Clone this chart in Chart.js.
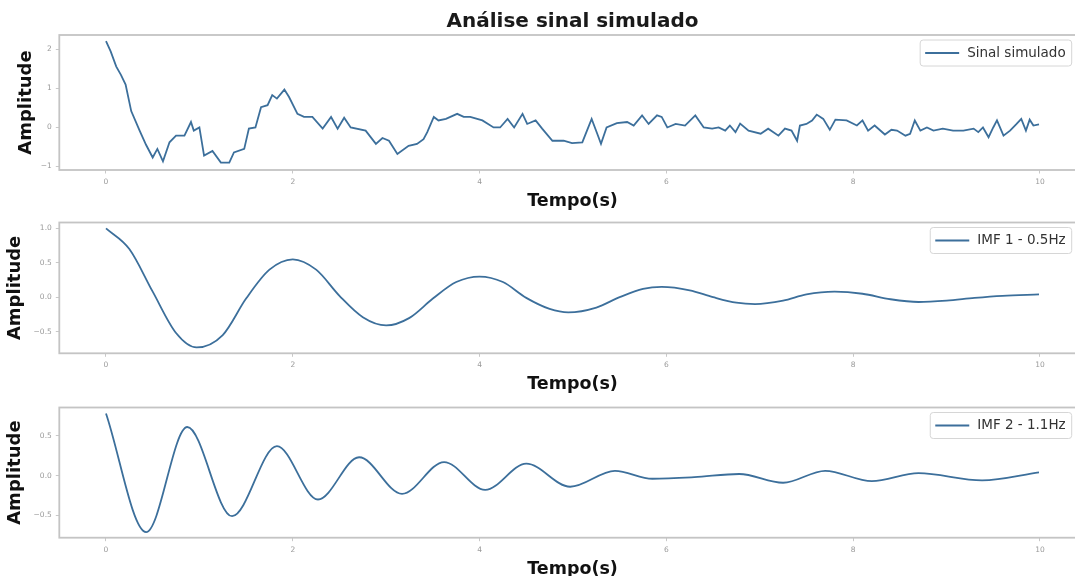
<!DOCTYPE html>
<html>
<head>
<meta charset="utf-8">
<script src="https://cdn.jsdelivr.net/npm/chart.js@4.4.0/dist/chart.umd.min.js"></script>
<style>
  html, body { margin: 0; padding: 0; background: #fff; width: 1075px; height: 576px; overflow: hidden; }
  .panel { position: absolute; left: 0; }
  .panel canvas { display: block; }
</style>
</head>
<body>
<div class="panel" style="top:0px"><canvas id="cSignal" width="1090" height="214"></canvas></div>
<div class="panel" style="top:214px"><canvas id="cImf1" width="1090" height="185"></canvas></div>
<div class="panel" style="top:399px"><canvas id="cImf2" width="1090" height="190"></canvas></div>
<script>
// ---- data ----
const xTicks = [0, 2, 4, 6, 8, 10];
const xTickLabels = ['0', '2', '4', '6', '8', '10'];

const seriesLabels = ['Sinal simulado', 'IMF 1 - 0.5Hz', 'IMF 2 - 1.1Hz'];

const signalTime = [
  0.00, 0.05, 0.11, 0.16, 0.21, 0.27, 0.36, 0.43, 0.50, 0.55, 0.61, 0.68, 0.75, 0.84, 0.91, 0.94,
  1.00, 1.05, 1.14, 1.23, 1.32, 1.37, 1.48, 1.53, 1.60, 1.66, 1.73, 1.78, 1.83, 1.91, 1.96,
  2.05, 2.12, 2.21, 2.32, 2.41, 2.48, 2.55, 2.62, 2.78, 2.89, 2.96,
  3.03, 3.12, 3.24, 3.33, 3.40, 3.44, 3.51, 3.56, 3.64, 3.76, 3.83, 3.90,
  4.03, 4.15, 4.22, 4.30, 4.37, 4.46, 4.51, 4.60, 4.67, 4.78, 4.90, 4.99,
  5.10, 5.15, 5.20, 5.26, 5.30, 5.36, 5.47, 5.58, 5.65, 5.74, 5.81, 5.90, 5.95,
  6.01, 6.10, 6.20, 6.31, 6.40, 6.49, 6.56, 6.63, 6.68, 6.74, 6.79, 6.88,
  7.01, 7.09, 7.20, 7.27, 7.34, 7.40, 7.43, 7.50, 7.56, 7.61, 7.68, 7.75, 7.81, 7.93,
  8.04, 8.10, 8.16, 8.23, 8.34, 8.41, 8.47, 8.56, 8.61, 8.66, 8.72, 8.79, 8.86, 8.96,
  9.07, 9.18, 9.29, 9.34, 9.39, 9.45, 9.50, 9.54, 9.61, 9.68, 9.75, 9.80, 9.85, 9.89, 9.93, 9.99
];
const signalValues = [
  2.21, 1.95, 1.56, 1.35, 1.10, 0.42, -0.08, -0.45, -0.77, -0.55, -0.87, -0.38, -0.21, -0.21, 0.14, -0.08,
  0.00, -0.72, -0.60, -0.90, -0.90, -0.64, -0.55, -0.03, 0.00, 0.52, 0.57, 0.83, 0.74, 0.97, 0.78,
  0.35, 0.27, 0.27, -0.03, 0.27, -0.03, 0.25, 0.00, -0.08, -0.42, -0.27,
  -0.34, -0.68, -0.47, -0.42, -0.30, -0.12, 0.27, 0.18, 0.22, 0.35, 0.27, 0.27,
  0.18, 0.00, 0.00, 0.22, 0.00, 0.35, 0.09, 0.18, -0.03, -0.34, -0.34, -0.40,
  -0.38, -0.08, 0.22, -0.16, -0.42, 0.00, 0.11, 0.14, 0.05, 0.31, 0.09, 0.31, 0.27,
  0.00, 0.09, 0.05, 0.31, 0.00, -0.03, 0.00, -0.08, 0.05, -0.12, 0.10, -0.08,
  -0.16, -0.03, -0.21, -0.03, -0.08, -0.34, 0.05, 0.09, 0.18, 0.33, 0.22, -0.06, 0.20, 0.18,
  0.05, 0.18, -0.08, 0.05, -0.18, -0.06, -0.08, -0.21, -0.16, 0.18, -0.08, 0.00, -0.08, -0.03,
  -0.08, -0.08, -0.03, -0.12, 0.00, -0.25, 0.00, 0.18, -0.21, -0.08, 0.09, 0.22, -0.08, 0.20, 0.05, 0.08
];

const imf1Time = [
  0.00, 0.25, 0.50, 0.75, 0.97, 1.25, 1.50, 1.75, 2.00, 2.25, 2.50, 2.75, 3.00, 3.25, 3.50, 3.75,
  4.00, 4.25, 4.50, 4.75, 4.95, 5.25, 5.50, 5.75, 5.95, 6.25, 6.50, 6.75, 6.95, 7.25, 7.50, 7.80,
  8.10, 8.40, 8.70, 9.00, 9.30, 9.60, 9.99
];
const imf1Values = [
  1.00, 0.70, 0.08, -0.52, -0.73, -0.55, -0.02, 0.40, 0.55, 0.40, 0.02, -0.29, -0.41, -0.30, -0.02, 0.22,
  0.30, 0.22, -0.01, -0.17, -0.22, -0.15, 0.00, 0.12, 0.15, 0.10, 0.00, -0.08, -0.10, -0.05, 0.04, 0.08,
  0.05, -0.03, -0.07, -0.05, -0.01, 0.02, 0.04
];

const imf2Time = [
  0.00, 0.43, 0.87, 1.35, 1.83, 2.27, 2.71, 3.17, 3.62, 4.06, 4.50, 4.97, 5.45, 5.85, 6.30,
  6.78, 7.25, 7.70, 8.20, 8.70, 9.38, 9.99
];
const imf2Values = [
  0.78, -0.71, 0.61, -0.51, 0.37, -0.30, 0.23, -0.23, 0.17, -0.18, 0.15, -0.14, 0.06, -0.04, -0.02,
  0.02, -0.09, 0.06, -0.07, 0.03, -0.06, 0.04
];

const yTicksSignal = [-1, 0, 1, 2];
const yTickLabelsSignal = ['\u22121', '0', '1', '2'];
const yTicksImf1 = [-0.5, 0, 0.5, 1];
const yTickLabelsImf1 = ['\u22120.5', '0.0', '0.5', '1.0'];
const yTicksImf2 = [-0.5, 0, 0.5];
const yTickLabelsImf2 = ['\u22120.5', '0.0', '0.5'];

// ---- styling ----
const LINE_COLOR = '#3c6f9b';
const SPINE_COLOR = '#c4c4c4';
const TICK_COLOR = '#c8c8c8';
const TICK_TEXT = '#9a9a9a';

Chart.defaults.font.family = '"DejaVu Sans", "Liberation Sans", sans-serif';

// light grey box round the plotting area
const framePlugin = {
  id: 'frame',
  afterDatasetsDraw(chart) {
    const { ctx, chartArea: a } = chart;
    ctx.save();
    ctx.strokeStyle = SPINE_COLOR;
    ctx.lineWidth = 1.8;
    ctx.strokeRect(a.left, a.top, a.right - a.left, a.bottom - a.top);
    ctx.restore();
  }
};

// framed legend in the upper-right corner of the plotting area
const legendBoxPlugin = {
  id: 'legendBox',
  afterDraw(chart) {
    const ds = chart.data.datasets[0];
    const a = chart.chartArea;
    const ctx = chart.ctx;
    ctx.save();
    ctx.font = '13.5px "DejaVu Sans"';
    const tw = ctx.measureText(ds.label).width;
    const right = a.right - 14;
    const textX = right - 6 - tw;
    const lineEnd = textX - 8;
    const lineStart = lineEnd - 34;
    const left = lineStart - 5;
    const top = a.top + 5;
    const h = 26;
    const midY = top + h / 2;
    ctx.fillStyle = 'rgba(255,255,255,0.8)';
    ctx.strokeStyle = '#d6d6d6';
    ctx.lineWidth = 1;
    ctx.beginPath();
    ctx.roundRect(left, top, right - left, h, 3);
    ctx.fill();
    ctx.stroke();
    ctx.strokeStyle = ds.borderColor;
    ctx.lineWidth = ds.borderWidth;
    ctx.beginPath();
    ctx.moveTo(lineStart, midY);
    ctx.lineTo(lineEnd, midY);
    ctx.stroke();
    ctx.fillStyle = '#333';
    ctx.textBaseline = 'middle';
    ctx.textAlign = 'left';
    ctx.fillText(ds.label, textX, midY);
    ctx.restore();
  }
};

function makePanel(id, p) {
  const points = p.time.map((t, i) => ({ x: t, y: p.values[i] }));
  return new Chart(document.getElementById(id), {
    type: 'line',
    data: {
      datasets: [{
        label: p.label,
        data: points,
        borderColor: LINE_COLOR,
        borderWidth: 1.8,
        pointRadius: 0,
        fill: false,
        tension: 0,
        cubicInterpolationMode: p.smooth ? 'monotone' : 'default'
      }]
    },
    options: {
      responsive: false,
      animation: false,
      events: [],
      layout: { padding: { top: p.padTop, right: 4.3, left: 0, bottom: 0 } },
      plugins: {
        legend: { display: false },
        tooltip: { enabled: false },
        title: p.title ? {
          display: true,
          text: p.title,
          fullSize: false,
          color: '#1a1a1a',
          font: { size: 20, weight: 'bold' },
          padding: { top: 10, bottom: 1 }
        } : { display: false }
      },
      scales: {
        x: {
          type: 'linear',
          min: -0.5,
          max: 10.49,
          afterBuildTicks: s => { s.ticks = xTicks.map(v => ({ value: v })); },
          afterFit: s => { s.height = p.xHeight; },
          grid: { display: true, drawOnChartArea: false, drawTicks: true, tickLength: 3.5, tickColor: TICK_COLOR, color: TICK_COLOR },
          border: { display: false },
          ticks: {
            font: { size: 7.5 }, color: TICK_TEXT, padding: 4, maxRotation: 0, autoSkip: false,
            callback: (v, i) => xTickLabels[i]
          },
          title: {
            display: true, text: 'Tempo(s)', color: '#111',
            font: { size: 17.5, weight: 'bold' },
            padding: { top: 0, bottom: p.xTitlePad }
          }
        },
        y: {
          type: 'linear',
          min: p.yMin,
          max: p.yMax,
          afterBuildTicks: s => { s.ticks = p.yTicks.map(v => ({ value: v })); },
          afterFit: s => { s.width = 59.3; },
          grid: { display: true, drawOnChartArea: false, drawTicks: true, tickLength: 3.5, tickColor: TICK_COLOR, color: TICK_COLOR },
          border: { display: false },
          ticks: {
            font: { size: 7.5 }, color: TICK_TEXT, padding: 4, autoSkip: false,
            callback: (v, i) => p.yTickLabels[i]
          },
          title: {
            display: true, text: 'Amplitude', color: '#111',
            font: { size: 18, weight: 'bold' },
            padding: { top: p.yTitlePad, bottom: 0 }
          }
        }
      }
    },
    plugins: [framePlugin, legendBoxPlugin]
  });
}

makePanel('cSignal', {
  label: seriesLabels[0], time: signalTime, values: signalValues, smooth: false,
  title: 'Análise sinal simulado', padTop: 0,
  yMin: -1.09, yMax: 2.37, yTicks: yTicksSignal, yTickLabels: yTickLabelsSignal,
  xHeight: 44, xTitlePad: 2.2, yTitlePad: 15.2
});
makePanel('cImf1', {
  label: seriesLabels[1], time: imf1Time, values: imf1Values, smooth: true,
  title: null, padTop: 7,
  yMin: -0.815, yMax: 1.085, yTicks: yTicksImf1, yTickLabels: yTickLabelsImf1,
  xHeight: 45.7, xTitlePad: 4.2, yTitlePad: 4.2
});
makePanel('cImf2', {
  label: seriesLabels[2], time: imf2Time, values: imf2Values, smooth: true,
  title: null, padTop: 6.7,
  yMin: -0.78, yMax: 0.855, yTicks: yTicksImf2, yTickLabels: yTickLabelsImf2,
  xHeight: 51.3, xTitlePad: 9.2, yTitlePad: 4.2
});
</script>
</body>
</html>
